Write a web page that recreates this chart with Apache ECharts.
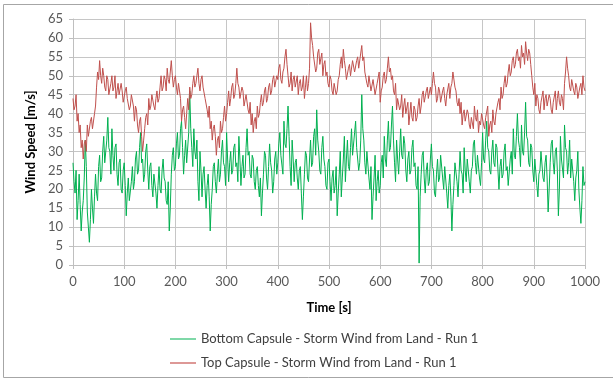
<!DOCTYPE html>
<html>
<head>
<meta charset="utf-8">
<script src="https://cdn.jsdelivr.net/npm/echarts@6/dist/echarts.min.js"></script>
<style>html,body{margin:0;padding:0;background:#fff}#c{width:613px;height:383px}</style>
</head>
<body>
<div id="c"></div>
<script>
// time step between samples [s]
const timeStep = 2;
const xTicks = [0,100,200,300,400,500,600,700,800,900,1000];
const yTicks = [0,5,10,15,20,25,30,35,40,45,50,55,60,65];
const seriesNames = ['Bottom Capsule - Storm Wind from Land - Run 1','Top Capsule - Storm Wind from Land - Run 1'];

const bottomCapsule = [
27,22,19,25,12,17,24,16,9,14,17,23,33,26,14,10,6,12,20,15,
11,18,24,19,17,26,29,22,23,30,34,27,27,33,39,31,30,24,36,29,
25,31,32,24,21,27,28,20,19,25,27,21,13,19,23,17,17,22,26,20,
22,28,30,24,25,31,35,27,28,22,24,30,32,25,20,26,27,21,18,24,
24,19,15,21,26,20,19,25,28,23,22,17,16,22,9,15,24,29,31,25,
26,32,35,28,29,36,38,31,24,29,33,27,27,35,46,36,31,26,36,30,
28,33,22,17,30,25,18,24,26,20,15,21,24,18,9,16,20,26,27,22,
19,24,28,22,24,30,33,27,26,21,35,28,22,27,30,24,25,31,32,26,
27,22,34,28,21,26,29,23,24,31,36,29,30,24,23,29,28,22,20,25,
26,21,18,23,13,19,24,30,29,23,20,26,32,27,25,19,22,28,30,24,
27,32,35,29,29,24,38,32,31,36,42,34,26,21,33,28,22,27,28,23,
20,25,26,19,12,18,24,30,29,23,22,28,33,26,27,34,36,29,41,33,
30,25,24,31,34,28,26,21,20,27,28,22,17,23,25,19,21,26,13,19,
24,30,18,23,28,34,22,28,33,26,25,31,36,29,29,35,38,31,31,25,
27,33,45,36,33,27,24,30,30,23,20,26,12,18,23,29,17,22,25,19,
21,27,29,23,34,28,26,33,38,30,31,37,42,33,27,22,33,28,24,30,
36,29,28,34,32,25,22,28,30,24,25,31,33,26,27,21,20,26,0.5,18,
24,29,30,23,19,25,27,21,22,28,32,26,25,19,18,24,28,22,23,29,
29,23,20,26,26,19,15,21,24,18,9,16,21,27,27,22,18,24,30,25,
24,19,31,25,22,28,28,22,19,25,26,32,33,27,24,29,29,23,21,27,
35,28,27,33,38,31,30,25,24,30,33,27,26,32,31,25,20,26,28,23,
24,30,32,25,26,21,21,28,30,24,36,29,28,34,40,33,31,26,37,30,
29,35,43,34,33,27,26,32,31,25,22,28,28,21,18,24,25,30,30,23,
22,27,29,23,14,20,27,32,33,27,24,30,31,25,13,20,34,28,28,23,
37,31,30,24,27,33,23,28,28,22,17,23,25,30,20,15,11,17,26,21,
22];

const topCapsule = [
44,41,42,45,38,40,35,37,31,33,28,32,33,30,37,34,34,38,39,36,
36,40,42,47,51,49,54,50,48,52,50,47,46,50,49,45,45,48,50,46,
47,50,44,46,48,45,45,48,46,43,43,46,47,44,44,41,42,45,45,42,
38,42,41,37,35,38,39,34,30,33,36,39,40,37,44,41,42,45,45,42,
41,44,46,43,44,47,50,46,47,50,49,46,52,49,48,51,54,50,47,49,
50,47,45,48,48,44,38,41,42,39,36,40,44,41,47,44,45,48,50,47,
48,50,52,48,46,49,50,47,47,44,44,41,39,42,36,38,33,36,37,34,
29,33,34,31,38,35,36,39,42,38,40,43,46,42,44,47,48,44,45,48,
52,48,47,44,44,47,46,42,42,45,45,41,40,43,37,40,35,38,39,36,
42,39,40,43,45,42,43,46,47,43,44,47,48,45,46,49,50,47,47,50,
49,52,53,49,48,51,52,55,57,53,50,47,48,51,46,49,50,47,47,50,
45,48,49,46,47,50,44,47,50,46,48,52,64,60,58,55,55,51,52,56,
57,53,53,56,50,53,54,50,51,48,47,50,49,46,45,48,48,45,46,49,
50,53,55,52,57,54,52,49,49,52,53,50,50,54,54,51,51,54,55,52,
52,56,58,54,55,51,51,48,47,50,50,46,46,49,49,45,45,48,48,51,
43,46,47,50,51,48,49,52,55,51,52,49,50,46,45,48,41,44,44,41,
42,45,39,42,44,40,40,43,37,40,43,39,38,42,41,38,39,42,44,40,
42,45,46,43,43,46,47,44,44,47,45,48,51,48,47,43,44,47,46,43,
43,46,47,44,42,45,45,48,44,47,48,51,51,47,46,43,42,44,40,43,
37,40,41,38,38,41,40,37,36,39,39,36,42,39,38,41,35,38,37,40,
40,37,36,39,39,42,34,37,38,35,41,38,37,40,40,43,44,41,47,44,
45,48,50,47,48,51,53,50,51,54,55,52,53,56,57,54,55,52,58,55,
56,53,59,56,54,57,56,53,50,47,45,48,42,45,44,41,40,43,43,46,
41,44,45,42,42,45,44,41,40,43,43,46,41,44,46,43,42,45,44,41,
48,51,55,52,50,47,46,49,49,46,45,48,47,44,44,47,48,45,50,47,
46];

function pairs(vals){ return vals.map((v,i)=>[i*timeStep, v]); }

const FONT = 'Lato, "Open Sans", sans-serif';
const chart = echarts.init(document.getElementById('c'), null, {renderer:'canvas'});
chart.setOption({
  animation:false,
  backgroundColor:'#fff',
  textStyle:{fontFamily:FONT},
  graphic:[{type:'rect', shape:{x:3.5,y:4.5,width:640,height:373}, style:{fill:'none', stroke:'#a6a6a6', lineWidth:1}, silent:true}],
  grid:{left:73, right:28, top:19, bottom:118},
  legend:{
    orient:'vertical', left:165, top:327, itemWidth:26, itemHeight:2, itemGap:10, icon:'rect',
    textStyle:{fontSize:13, lineHeight:14, color:'#404040', fontFamily:FONT},
    data:seriesNames
  },
  xAxis:{
    type:'value', min:xTicks[0], max:xTicks[xTicks.length-1], interval:100,
    name:'Time [s]', nameLocation:'middle', nameGap:36,
    nameTextStyle:{fontWeight:'bold', fontSize:13, color:'#000', fontFamily:FONT},
    axisLine:{show:true, lineStyle:{color:'#bfbfbf'}},
    axisTick:{show:true, length:4, lineStyle:{color:'#bfbfbf'}},
    axisLabel:{fontSize:13, color:'#595959', margin:10, fontFamily:FONT, formatter:v=>String(v)},
    splitLine:{show:true, lineStyle:{color:'#c6c6c6', width:1}}
  },
  yAxis:{
    type:'value', min:yTicks[0], max:yTicks[yTicks.length-1], interval:5,
    name:'Wind Speed [m/s]', nameLocation:'middle', nameGap:33, nameRotate:90,
    nameTextStyle:{fontWeight:'bold', fontSize:13, color:'#000', fontFamily:FONT},
    axisLine:{show:true, lineStyle:{color:'#bfbfbf'}},
    axisTick:{show:true, length:4, lineStyle:{color:'#bfbfbf'}},
    axisLabel:{fontSize:13, color:'#595959', margin:10, fontFamily:FONT, formatter:v=>String(v)},
    splitLine:{show:true, lineStyle:{color:'#c6c6c6', width:1}}
  },
  series:[
    {name:seriesNames[0], type:'line', data:pairs(bottomCapsule), showSymbol:false, symbol:'none',
      lineStyle:{color:'#00b050', width:1}, itemStyle:{color:'#7fd8a8'}, z:2},
    {name:seriesNames[1], type:'line', data:pairs(topCapsule), showSymbol:false, symbol:'none',
      lineStyle:{color:'#c0504d', width:1}, itemStyle:{color:'#dd9896'}, z:3}
  ]
});
</script>
</body>
</html>
